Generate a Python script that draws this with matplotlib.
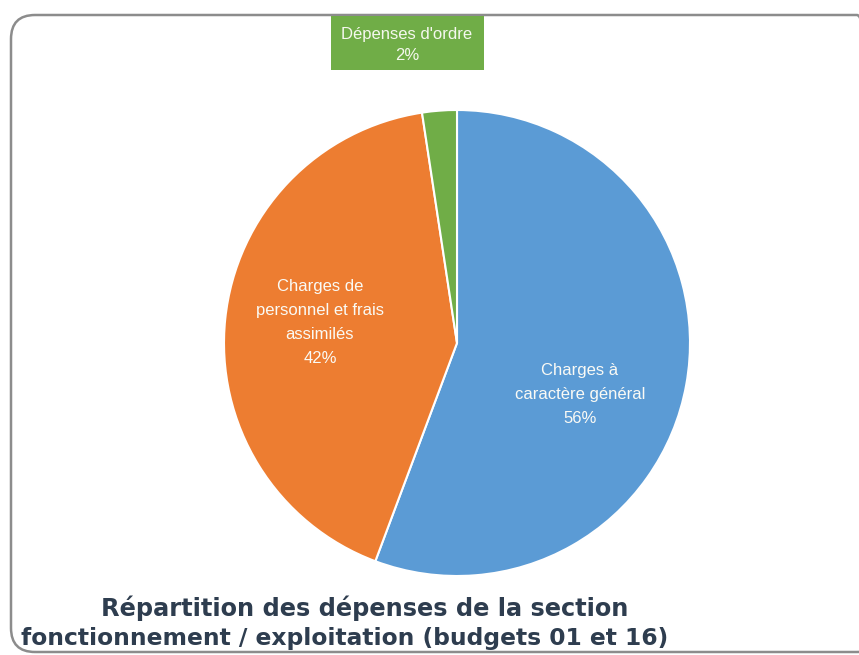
"""
Pie chart: repartition des depenses de fonctionnement
"""

import matplotlib
matplotlib.use("Agg")
import matplotlib.pyplot as plt
from matplotlib.patches import FancyBboxPatch, Rectangle

# data
categories = ["Charges à\ncaractère général", "Charges de\npersonnel et frais\nassimilés", "Dépenses d'ordre"]
values = [55.7, 41.9, 2.4]
colors = ["#5B9BD5", "#ED7D31", "#70AD47"]
title_lines = ["Répartition des dépenses de la section",
               "fonctionnement / exploitation (budgets 01 et 16)"]

W, H = 859, 655
fig = plt.figure(figsize=(W / 100, H / 100), dpi=100)
fig.patch.set_facecolor("white")

# rounded border around the chart area
border = FancyBboxPatch((11 / W, 3 / H), 870 / W, 637 / H,
                        boxstyle="round,pad=0,rounding_size=0.028",
                        transform=fig.transFigure, facecolor="none",
                        edgecolor="#8C8C8C", linewidth=1.8, mutation_aspect=W / H)
fig.patches.append(border)

# pie axes: centre (457, 343) px, radius 233 px
cx, cy, r = 457, 343, 233
ax = fig.add_axes([(cx - r) / W, (H - cy - r) / H, 2 * r / W, 2 * r / H])
wedges, _ = ax.pie(values, colors=colors, startangle=90, counterclock=False,
                   radius=1, wedgeprops=dict(edgecolor="white", linewidth=1.5))
ax.set_xlim(-1, 1)
ax.set_ylim(-1, 1)
ax.set_aspect("equal")
ax.axis("off")

pcts = [f"{round(v):.0f}%" for v in values]
font = "Liberation Sans"

# labels inside the two big slices
ax.text(0.528, -0.223, categories[0] + "\n" + pcts[0], ha="center", va="center",
        color="#FAFAF5", fontsize=12, family=font, linespacing=1.75)
ax.text(-0.588, 0.09, categories[1] + "\n" + pcts[1], ha="center", va="center",
        color="#FAFAF5", fontsize=12, family=font, linespacing=1.75)

# green label box for the small slice, above the pie
box = Rectangle((331 / W, (H - 70) / H), 153 / W, 54 / H, transform=fig.transFigure,
                facecolor=colors[2], edgecolor="none", zorder=5)
fig.patches.append(box)
fig.text(407 / W, 1 - 45 / H, categories[2] + "\n" + pcts[2], ha="center", va="center",
         color="#F5F8EE", fontsize=12, family=font, linespacing=1.45, zorder=6)

# title at bottom
fig.text(365 / W, 1 - 608 / H, title_lines[0], ha="center", va="center",
         fontsize=17.3, fontweight="bold", color="#2E3D4F", family="DejaVu Sans")
fig.text(345 / W, 1 - 639 / H, title_lines[1], ha="center", va="center",
         fontsize=16.8, fontweight="bold", color="#2E3D4F", family="DejaVu Sans")

fig.savefig("out.png", dpi=100)
